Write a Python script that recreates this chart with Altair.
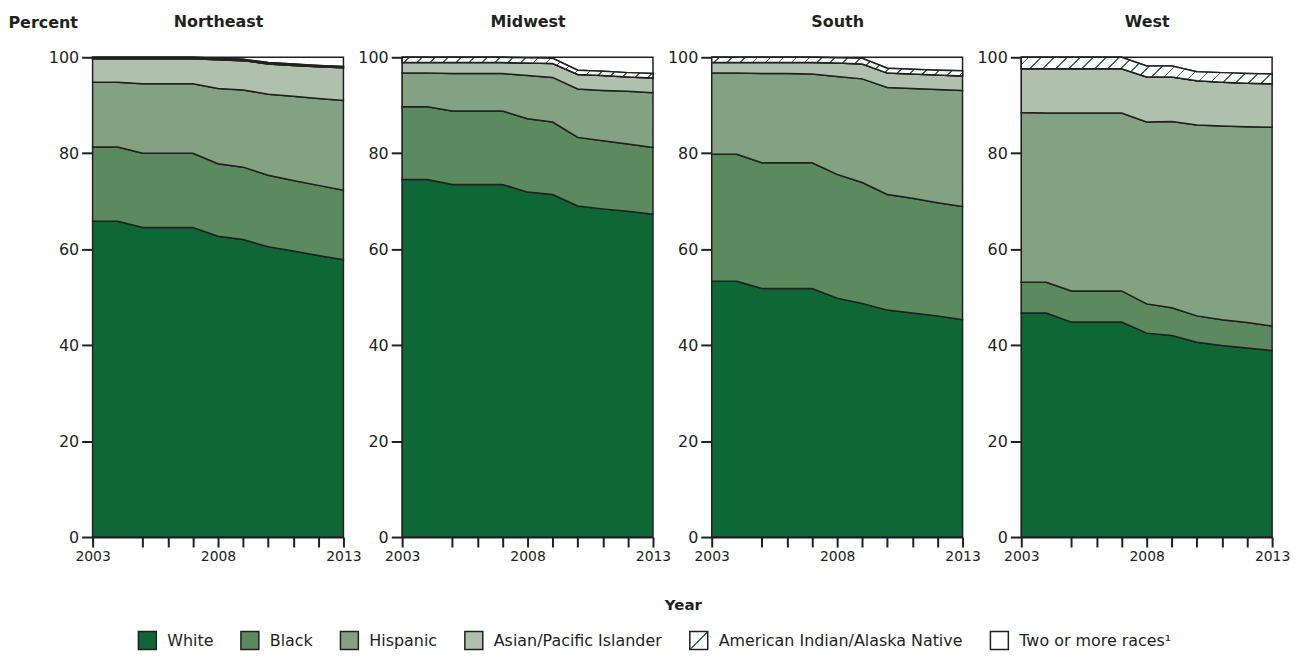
import altair as alt
import pandas as pd

# ---------------- data ----------------
years = [2003, 2004, 2005, 2006, 2007, 2008, 2009, 2010, 2011, 2012, 2013]
regions = ["Northeast", "Midwest", "South", "West"]
categories = ["White", "Black", "Hispanic", "Asian/Pacific Islander",
              "American Indian/Alaska Native", "Two or more races\u00b9"]

ne_white = [65.8, 65.8, 64.5, 64.5, 64.5, 62.7, 62.0, 60.5, 59.6, 58.7, 57.8]
ne_black = [15.5, 15.5, 15.5, 15.5, 15.5, 15.1, 15.1, 14.9, 14.7, 14.6, 14.5]
ne_hispanic = [13.5, 13.5, 14.5, 14.5, 14.5, 15.7, 16.1, 16.9, 17.6, 18.1, 18.7]
ne_asian = [4.9, 4.9, 5.2, 5.2, 5.2, 6.0, 6.1, 6.3, 6.4, 6.6, 6.8]
ne_amind = [0.3, 0.3, 0.3, 0.3, 0.3, 0.3, 0.3, 0.3, 0.3, 0.3, 0.3]
ne_two = [0.0, 0.0, 0.0, 0.0, 0.0, 0.2, 0.4, 1.1, 1.4, 1.7, 1.9]

mw_white = [74.5, 74.5, 73.5, 73.5, 73.5, 71.9, 71.4, 69.0, 68.4, 67.9, 67.3]
mw_black = [15.2, 15.2, 15.3, 15.3, 15.3, 15.3, 15.1, 14.3, 14.2, 14.0, 13.9]
mw_hispanic = [7.0, 7.0, 7.8, 7.8, 7.8, 9.0, 9.3, 10.1, 10.5, 11.0, 11.4]
mw_asian = [2.2, 2.2, 2.3, 2.3, 2.3, 2.6, 2.9, 3.0, 3.1, 3.0, 3.1]
mw_amind = [1.1, 1.1, 1.1, 1.1, 1.1, 1.1, 1.1, 0.9, 0.9, 0.9, 0.9]
mw_two = [0.0, 0.0, 0.0, 0.0, 0.0, 0.1, 0.2, 2.7, 2.9, 3.2, 3.4]

s_white = [53.3, 53.3, 51.8, 51.8, 51.8, 49.8, 48.7, 47.3, 46.7, 46.1, 45.3]
s_black = [26.5, 26.5, 26.2, 26.2, 26.2, 25.8, 25.2, 24.1, 23.9, 23.6, 23.6]
s_hispanic = [16.9, 16.9, 18.6, 18.6, 18.5, 20.4, 21.6, 22.3, 22.9, 23.6, 24.2]
s_asian = [2.2, 2.2, 2.3, 2.3, 2.4, 2.8, 3.1, 3.0, 3.0, 3.0, 3.0]
s_amind = [1.1, 1.1, 1.1, 1.1, 1.1, 1.1, 1.2, 1.0, 1.0, 1.0, 1.1]
s_two = [0.0, 0.0, 0.0, 0.0, 0.0, 0.1, 0.2, 2.3, 2.5, 2.7, 2.8]

w_white = [46.7, 46.7, 44.8, 44.8, 44.8, 42.5, 42.0, 40.6, 39.9, 39.4, 38.9]
w_black = [6.4, 6.4, 6.5, 6.5, 6.5, 6.1, 5.8, 5.5, 5.4, 5.3, 5.1]
w_hispanic = [35.4, 35.3, 37.1, 37.1, 37.1, 37.9, 38.8, 39.8, 40.4, 40.8, 41.4]
w_asian = [9.1, 9.2, 9.2, 9.2, 9.2, 9.4, 9.3, 9.2, 9.1, 9.1, 9.1]
w_amind = [2.4, 2.4, 2.4, 2.4, 2.4, 2.3, 2.3, 1.9, 2.0, 2.0, 2.0]
w_two = [0.0, 0.0, 0.0, 0.0, 0.0, 1.8, 1.8, 3.0, 3.2, 3.4, 3.5]

series = {
    "Northeast": [ne_white, ne_black, ne_hispanic, ne_asian, ne_amind, ne_two],
    "Midwest": [mw_white, mw_black, mw_hispanic, mw_asian, mw_amind, mw_two],
    "South": [s_white, s_black, s_hispanic, s_asian, s_amind, s_two],
    "West": [w_white, w_black, w_hispanic, w_asian, w_amind, w_two],
}

tick_years = [2003, 2005, 2006, 2007, 2008, 2009, 2010, 2011, 2012, 2013]

# ---------------- styles ----------------
FONT = "DejaVu Sans"
DARK = "#231f20"
HATCH = "#2b7a4b"
colors_fixed = ["#0e6836", "#5b8a5e", "#82a282", "#afc1ad"]

PANEL_W = 252
PANEL_H = 482

legend_hatch = ("{gradient:'linear',x1:0,y1:0,x2:1,y2:1,stops:["
                "{offset:0,color:'#ffffff'},{offset:0.475,color:'#ffffff'},"
                f"{{offset:0.475,color:'{HATCH}'}},{{offset:0.525,color:'{HATCH}'}},"
                "{offset:0.525,color:'#ffffff'},{offset:1,color:'#ffffff'}]}")
color_range = colors_fixed + [alt.ExprRef(expr=legend_hatch), "#ffffff"]

rows = []
for reg in regions:
    for ci, (cat, vals) in enumerate(zip(categories, series[reg])):
        for y, v in zip(years, vals):
            rows.append({"region": reg, "year": y, "category": cat, "order": ci, "pct": v})
df = pd.DataFrame(rows)


def hatch_gradient(reg):
    vals = series[reg]
    lows, highs = [], []
    for k in range(len(years)):
        base = sum(vals[c][k] for c in range(4))
        lows.append(base)
        highs.append(base + vals[4][k])
    h = (max(highs) - min(lows)) * PANEL_H / 100.0
    w = float(PANEL_W)
    r = h / w
    s = (1 + r) / (1 + r * r)
    total = w + h
    spacing = 13.0
    thick = 1.7
    stops = [{"offset": 0.0, "color": "#ffffff"}]
    d = spacing / 2
    while d + thick < total:
        a = d / total
        b = (d + thick) / total
        stops += [{"offset": a, "color": "#ffffff"}, {"offset": a, "color": HATCH},
                  {"offset": b, "color": HATCH}, {"offset": b, "color": "#ffffff"}]
        d += spacing
    stops.append({"offset": 1.0, "color": "#ffffff"})
    return {"gradient": "linear", "x1": 0, "y1": 0, "x2": s, "y2": s * r, "stops": stops}


def panel(i, reg):
    data = df[df.region == reg]
    base = alt.Chart(data).transform_stack(
        stack="pct", groupby=["year"], as_=["y0", "y1"],
        sort=[alt.SortField("order", order="ascending")])

    xaxis_kw = dict(values=tick_years,
                    labelExpr="(datum.value == 2003 || datum.value == 2008 || datum.value == 2013) ? toString(datum.value) : ''",
                    tickSize=10, tickWidth=2, tickColor=DARK, domainWidth=2, domainColor=DARK,
                    labelFont=FONT, labelFontSize=14, labelColor=DARK, labelPadding=3,
                    grid=False, labelFlush=False, labelOverlap=False)
    if i == 1:
        xaxis_kw.update(title="Year", titleX=282, titleY=73, titleAlign="center",
                        titleBaseline="alphabetic", titleFont=FONT, titleFontSize=15,
                        titleFontWeight="bold", titleColor=DARK)
    else:
        xaxis_kw.update(title=None)

    # region name drawn as the y-axis title, centred above the panel
    yaxis_kw = dict(values=[0, 20, 40, 60, 80, 100], tickSize=11, tickWidth=2, tickColor=DARK,
                    domainWidth=2, domainColor=DARK, labelFont=FONT, labelFontSize=16,
                    labelColor=DARK, labelPadding=3, grid=False,
                    title=reg, titleAngle=0, titleX=PANEL_W / 2, titleY=-31, titleAlign="center",
                    titleBaseline="alphabetic", titleFont=FONT, titleFontSize=16,
                    titleFontWeight="bold", titleColor=DARK)

    X = alt.X("year:Q", scale=alt.Scale(domain=[2003, 2013], nice=False, zero=False),
              axis=alt.Axis(**xaxis_kw))
    Y = alt.Y("y0:Q", scale=alt.Scale(domain=[0, 100], nice=False), axis=alt.Axis(**yaxis_kw))

    areas = base.mark_area(stroke=DARK, strokeWidth=1.5, interpolate="linear", opacity=1).encode(
        x=X, y=Y, y2="y1:Q",
        color=alt.Color("category:N",
                        scale=alt.Scale(domain=categories, range=color_range),
                        legend=alt.Legend(orient="none", legendX=45, legendY=576,
                                          direction="horizontal", title=None,
                                          symbolType="square", symbolSize=324,
                                          symbolStrokeColor=DARK, symbolStrokeWidth=1.5,
                                          symbolOpacity=1,
                                          labelFont=FONT, labelFontSize=16, labelColor=DARK,
                                          labelOffset=10, columnPadding=24, labelLimit=0)),
        detail="category:N",
    )
    hatch = base.transform_filter(alt.datum.order == 4).mark_area(
        stroke=DARK, strokeWidth=1.5, interpolate="linear",
        fill=hatch_gradient(reg), opacity=1).encode(x=X, y=Y, y2="y1:Q")

    layer = alt.layer(areas, hatch).properties(width=PANEL_W, height=PANEL_H)
    if i == 0:
        layer = layer.properties(title=alt.TitleParams(
            "Percent", font=FONT, fontSize=16, fontWeight="bold", color=DARK,
            anchor="start", frame="bounds", baseline="alphabetic", offset=0, dy=31, dx=-40))
    return layer


chart = alt.hconcat(*[panel(i, r) for i, r in enumerate(regions)], spacing=59, bounds="flush").resolve_scale(
    color="shared").configure_view(stroke=None).properties(
    padding={"left": 0, "top": 4, "right": 5, "bottom": 0})

chart.save("out.html", embed_options={"renderer": "svg", "actions": False})
